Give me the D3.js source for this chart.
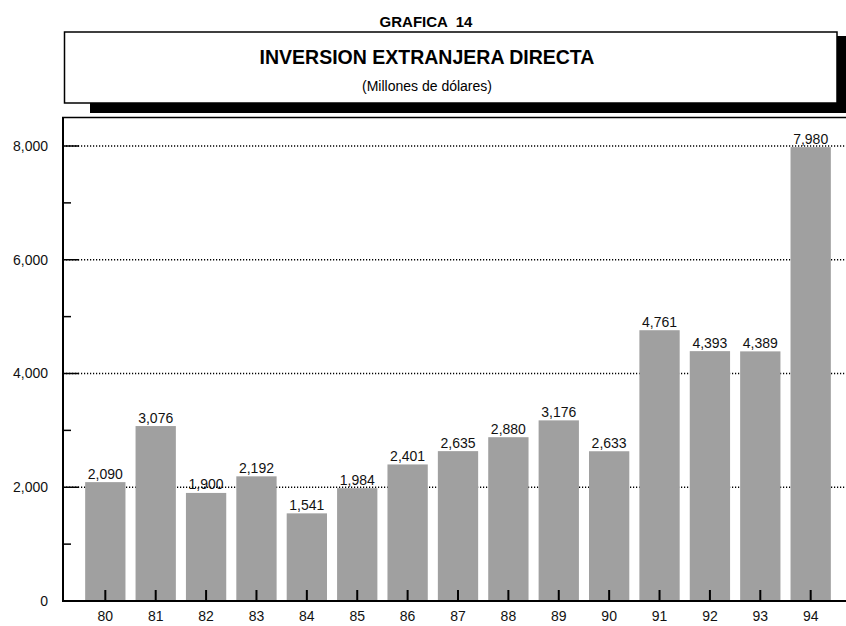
<!DOCTYPE html>
<html>
<head>
<meta charset="utf-8">
<script src="https://cdn.jsdelivr.net/npm/d3@7"></script>
<style>
  body { margin: 0; background: #fff; }
  svg { display: block; font-family: "Liberation Sans", Arial, sans-serif; }
  text { white-space: pre; }
</style>
</head>
<body>
<div id="chart"></div>
<script>
// years (x categories) and foreign direct investment, millions of dollars
var years = ["80", "81", "82", "83", "84", "85", "86", "87", "88", "89", "90", "91", "92", "93", "94"];
var values = [2090, 3076, 1900, 2192, 1541, 1984, 2401, 2635, 2880, 3176, 2633, 4761, 4393, 4389, 7980];
var majorTicks = [0, 2000, 4000, 6000, 8000];
var minorTicks = [1000, 3000, 5000, 7000];

var width = 846, height = 626;
var left = 63, bottom = 601;

var svg = d3.select("#chart").append("svg")
    .attr("width", width)
    .attr("height", height);

// scales
var x = d3.scaleBand()
    .domain(years)
    .range([left, 853])
    .paddingInner(0.2)
    .paddingOuter(0.44);

var y = d3.scaleLinear()
    .domain([0, 8000])
    .range([bottom, 146]);

var fmt = d3.format(",");

// title block with drop shadow
svg.append("rect")
    .attr("x", 90).attr("y", 36)
    .attr("width", width - 90).attr("height", 77)
    .attr("fill", "#000");
svg.append("rect")
    .attr("x", 64.5).attr("y", 32)
    .attr("width", 772.5).attr("height", 71)
    .attr("fill", "#fff")
    .attr("stroke", "#000")
    .attr("stroke-width", 1.5);

svg.append("text")
    .attr("x", 426).attr("y", 27)
    .attr("text-anchor", "middle")
    .attr("font-weight", "bold")
    .attr("font-size", 15)
    .text("GRAFICA  14");
svg.append("text")
    .attr("x", 427).attr("y", 64)
    .attr("text-anchor", "middle")
    .attr("font-weight", "bold")
    .attr("font-size", 19.5)
    .text("INVERSION EXTRANJERA DIRECTA");
svg.append("text")
    .attr("x", 427).attr("y", 91)
    .attr("text-anchor", "middle")
    .attr("font-size", 14)
    .text("(Millones de dólares)");

// dotted gridlines (behind bars)
svg.append("g")
  .selectAll("line")
  .data(majorTicks.slice(1))
  .enter().append("line")
    .attr("x1", left).attr("x2", width)
    .attr("y1", function(d) { return y(d); })
    .attr("y2", function(d) { return y(d); })
    .attr("stroke", "#000")
    .attr("stroke-width", 1.5)
    .attr("stroke-dasharray", "1.2,1.8");

// bars
svg.append("g")
  .selectAll("rect")
  .data(values)
  .enter().append("rect")
    .attr("x", function(d, i) { return x(years[i]); })
    .attr("y", function(d) { return y(d); })
    .attr("width", x.bandwidth())
    .attr("height", function(d) { return bottom - y(d); })
    .attr("fill", "#a0a0a0");

// value labels
svg.append("g")
  .selectAll("text")
  .data(values)
  .enter().append("text")
    .attr("x", function(d, i) { return x(years[i]) + x.bandwidth() / 2; })
    .attr("y", function(d) { return y(d) - 3.5; })
    .attr("text-anchor", "middle")
    .attr("font-size", 14)
    .attr("fill", "#111")
    .text(function(d) { return fmt(d); });

// y axis: inward ticks, labels on the left
var yAxis = svg.append("g")
    .attr("transform", "translate(" + left + ",0)")
    .call(d3.axisLeft(y).tickValues(majorTicks).tickSize(0).tickPadding(15).tickFormat(fmt));
yAxis.select(".domain").remove();
yAxis.selectAll("text")
    .attr("font-size", 14)
    .attr("font-family", null)
    .attr("fill", "#111");

svg.append("g")
  .selectAll("line")
  .data(majorTicks.slice(1))
  .enter().append("line")
    .attr("x1", left).attr("x2", left + 16)
    .attr("y1", function(d) { return y(d); })
    .attr("y2", function(d) { return y(d); })
    .attr("stroke", "#000").attr("stroke-width", 1.5);
svg.append("g")
  .selectAll("line")
  .data(minorTicks)
  .enter().append("line")
    .attr("x1", left).attr("x2", left + 8)
    .attr("y1", function(d) { return y(d); })
    .attr("y2", function(d) { return y(d); })
    .attr("stroke", "#000").attr("stroke-width", 1.5);

// x axis: ticks point up into the plot
var xAxis = svg.append("g")
    .attr("transform", "translate(0," + bottom + ")")
    .call(d3.axisBottom(x).tickSize(-11).tickPadding(10));
xAxis.select(".domain").remove();
xAxis.selectAll("line").attr("stroke", "#000").attr("stroke-width", 2);
xAxis.selectAll("text")
    .attr("font-size", 14)
    .attr("font-family", null)
    .attr("fill", "#111");

// frame: left axis, baseline, top border
svg.append("line")
    .attr("x1", left).attr("x2", left)
    .attr("y1", y(8500)).attr("y2", bottom + 1)
    .attr("stroke", "#000").attr("stroke-width", 2);
svg.append("line")
    .attr("x1", left - 1).attr("x2", width)
    .attr("y1", bottom).attr("y2", bottom)
    .attr("stroke", "#000").attr("stroke-width", 2);
svg.append("line")
    .attr("x1", left - 1).attr("x2", width)
    .attr("y1", y(8500)).attr("y2", y(8500))
    .attr("stroke", "#000").attr("stroke-width", 1.5);
</script>
</body>
</html>
